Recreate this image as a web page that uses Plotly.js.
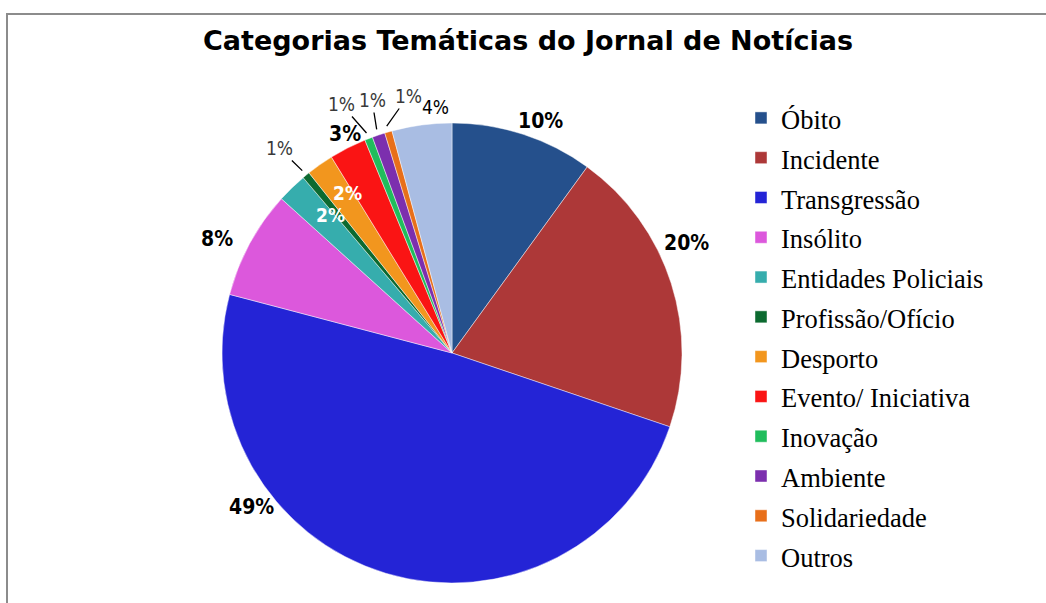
<!DOCTYPE html>
<html>
<head>
<meta charset="utf-8">
<script src="https://cdn.plot.ly/plotly-3.0.1.min.js"></script>
<style>
html,body{margin:0;padding:0;background:#fff;}
#chart{width:1046px;height:603px;}
</style>
</head>
<body>
<div id="chart"></div>
<script>
// ---- data ----
const categories = ["Óbito","Incidente","Transgressão","Insólito","Entidades Policiais","Profissão/Ofício","Desporto","Evento/ Iniciativa","Inovação","Ambiente","Solidariedade","Outros"];
const values = [10.0, 20.2, 48.9, 7.6, 2.1, 0.52, 1.9, 2.6, 0.56, 0.9, 0.52, 4.2];
const colors = ["#25508c","#ad3838","#2424d6","#dc58dc","#36adad","#0c6a30","#f2961e","#fa1414","#20bd5c","#7c2fae","#e86f1a","#a9bde3"];

// ---- label styling / placement (layout only) ----
const labelStyle = ["bold","bold","bold","bold","inside","thin","inside","bold","thin","thin","thin","plain"];
const labelPos = [[540,121],[686,243],[251,507],[217,239],[330,215],[279,148],[347,193],[345,134],[341,104],[372,100],[408,96],[435,107]];
const hasLeader = [false,false,false,false,false,true,false,false,true,true,true,false];

const W = 1046, H = 603;
const px = v => v / W, py = v => 1 - v / H;
const CX = 452, CY = 353, R = 230;

const total = values.reduce((a,b)=>a+b,0);
const pctText = values.map(v => Math.round(v / total * 100) + "%");

const trace = {
  type: "pie",
  labels: categories.map(c => '<span style="font-size:26.5px">' + c + '</span>'),
  values: values,
  sort: false,
  direction: "clockwise",
  rotation: 0,
  marker: {colors: colors, line: {color: "rgba(255,255,255,0.45)", width: 1}},
  textinfo: "none",
  domain: {x: [px(CX - R), px(CX + R)], y: [py(CY + R), py(CY - R)]},
  hoverinfo: "label+percent"
};

const annotations = [];
let cum = 0;
values.forEach((v, i) => {
  const mid = (cum + v / 2) / total * 2 * Math.PI;
  cum += v;
  const st = labelStyle[i];
  const font = {
    family: "DejaVu Sans Condensed",
    size: st === "thin" || st === "plain" ? 19 : (st === "inside" ? 19 : 21),
    color: st === "inside" ? "#ffffff" : (st === "thin" ? "#3a3a3a" : "#000000"),
    weight: (st === "bold" || st === "inside") ? "bold" : "normal"
  };
  const [tx, ty] = labelPos[i];
  if (hasLeader[i]) {
    const hx = CX + (R + 6) * Math.sin(mid);
    const hy = CY - (R + 6) * Math.cos(mid);
    annotations.push({
      xref: "paper", yref: "paper", x: px(hx), y: py(hy),
      ax: tx - hx, ay: ty - hy,
      text: pctText[i], font: font,
      showarrow: true, arrowhead: 0, arrowwidth: 1.3, arrowcolor: "#000", standoff: 0, startstandoff: 0
    });
  } else {
    annotations.push({
      xref: "paper", yref: "paper", x: px(tx), y: py(ty),
      xanchor: "center", yanchor: "middle",
      text: pctText[i], font: font, showarrow: false
    });
  }
});

const layout = {
  width: W, height: H,
  margin: {l: 0, r: 0, t: 0, b: 0},
  paper_bgcolor: "#ffffff",
  title: {
    text: "<b>Categorias Temáticas do Jornal de Notícias</b>",
    font: {family: "DejaVu Sans", size: 27, color: "#000"},
    x: px(528), xanchor: "center", y: py(41), yanchor: "middle"
  },
  showlegend: true,
  legend: {
    x: px(741), xanchor: "left",
    y: py(93), yanchor: "top",
    font: {family: "Liberation Serif", size: 28.3, color: "#000"},
    bgcolor: "rgba(0,0,0,0)"
  },
  annotations: annotations,
  shapes: [
    {type: "line", xref: "paper", yref: "paper", x0: px(7), x1: px(7), y0: py(13), y1: 0, line: {color: "#8c8c8c", width: 2}},
    {type: "line", xref: "paper", yref: "paper", x0: px(6), x1: 1, y0: py(14), y1: py(14), line: {color: "#8c8c8c", width: 2}}
  ]
};

Plotly.newPlot("chart", [trace], layout, {displayModeBar: false, responsive: false});
</script>
</body>
</html>
